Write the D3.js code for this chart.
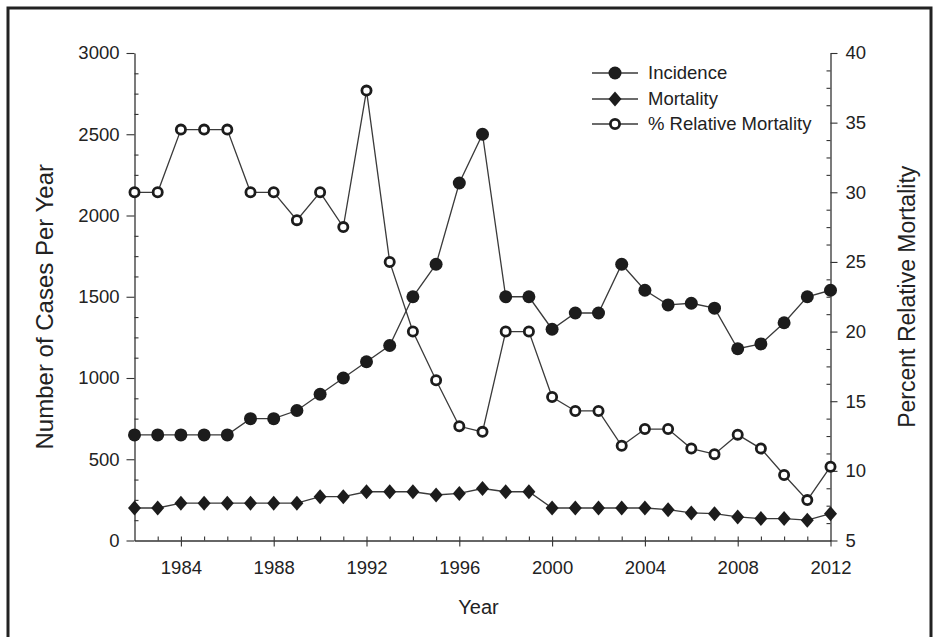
<!DOCTYPE html>
<html>
<head>
<meta charset="utf-8">
<script src="https://cdn.jsdelivr.net/npm/d3@7"></script>
<style>
  html, body { margin: 0; padding: 0; background: #fff; }
  svg { display: block; }
  text { font-family: "Liberation Sans", Arial, sans-serif; fill: #222; }
</style>
</head>
<body>
<svg id="chart" width="937" height="637"></svg>
<script>
const years = [1982,1983,1984,1985,1986,1987,1988,1989,1990,1991,1992,1993,1994,1995,1996,1997,1998,1999,2000,2001,2002,2003,2004,2005,2006,2007,2008,2009,2010,2011,2012];
const incidence = [650,650,650,650,650,750,750,800,900,1000,1100,1200,1500,1700,2200,2500,1500,1500,1300,1400,1400,1700,1540,1450,1460,1430,1180,1210,1340,1500,1540];
const mortality = [200,200,230,230,230,230,230,230,270,270,300,300,300,280,290,320,300,300,200,200,200,200,200,190,170,165,145,135,135,125,165];
const relMortality = [30,30,34.5,34.5,34.5,30,30,28,30,27.5,37.3,25,20,16.5,13.2,12.8,20,20,15.3,14.3,14.3,11.8,13,13,11.6,11.2,12.6,11.6,9.7,7.9,10.3];

const xTicks = [1984,1988,1992,1996,2000,2004,2008,2012];
const leftTicks = [0,500,1000,1500,2000,2500,3000];
const rightTicks = [5,10,15,20,25,30,35,40];
const seriesNames = ["Incidence","Mortality","% Relative Mortality"];

const svg = d3.select("#chart");
const ink = "#1c1c1c";
const lineCol = "#3a3a3a";

// frame
svg.append("path")
  .attr("d", "M8,640 L8,8 L931,8 L931,640")
  .attr("fill", "none").attr("stroke", "#222").attr("stroke-width", 3);

const x = d3.scaleLinear().domain([1982, 2012]).range([134.5, 830.5]);
const yL = d3.scaleLinear().domain([0, 3000]).range([540.5, 53]);
const yR = d3.scaleLinear().domain([5, 40]).range([540.5, 53]);

function styleAxis(g) {
  g.selectAll("path.domain").attr("stroke", "#333").attr("stroke-width", 1.3);
  g.selectAll(".tick line").attr("stroke", "#333").attr("stroke-width", 1.1);
  g.selectAll(".tick text").attr("font-size", 18.5).attr("fill", "#333")
    .attr("font-family", "Liberation Sans, Arial, sans-serif");
}

// Left axis
const gL = svg.append("g").attr("transform", `translate(${x(1982)},0)`)
  .call(d3.axisLeft(yL).tickValues(leftTicks).tickSize(8).tickSizeOuter(0).tickPadding(7).tickFormat(d3.format("d")));
styleAxis(gL);
const gLm = svg.append("g").attr("transform", `translate(${x(1982)},0)`)
  .call(d3.axisRight(yL).tickValues(d3.range(0, 3001, 125).filter(v => v % 500 !== 0)).tickSize(4).tickFormat(""));
gLm.select("path.domain").remove();
styleAxis(gLm);

// Right axis
const gR = svg.append("g").attr("transform", `translate(${x(2012)},0)`)
  .call(d3.axisRight(yR).tickValues(rightTicks).tickSize(7).tickSizeOuter(0).tickPadding(8).tickFormat(d3.format("d")));
styleAxis(gR);
const gRm = svg.append("g").attr("transform", `translate(${x(2012)},0)`)
  .call(d3.axisLeft(yR).tickValues(d3.range(5, 40.01, 1.25).filter(v => v % 5 !== 0)).tickSize(4).tickFormat(""));
gRm.select("path.domain").remove();
styleAxis(gRm);

// Bottom axis
const gB = svg.append("g").attr("transform", `translate(0,${yL(0)})`)
  .call(d3.axisBottom(x).tickValues(xTicks).tickSize(6).tickSizeOuter(0).tickPadding(14).tickFormat(d3.format("d")));
styleAxis(gB);
const gBm = svg.append("g").attr("transform", `translate(0,${yL(0)})`)
  .call(d3.axisTop(x).tickValues(years.filter(y => y > 1982 && y < 2012)).tickSize(4).tickFormat(""));
gBm.select("path.domain").remove();
styleAxis(gBm);

// Axis titles
svg.append("text").attr("transform", `translate(53,${(yL(0)+yL(3000))/2 + 10}) rotate(-90)`)
  .attr("text-anchor", "middle").attr("font-size", 24).attr("fill", "#333")
  .text("Number of Cases Per Year");
svg.append("text").attr("transform", `translate(915,${(yR(5)+yR(40))/2}) rotate(-90)`)
  .attr("text-anchor", "middle").attr("font-size", 23).attr("fill", "#333")
  .text("Percent Relative Mortality");
svg.append("text").attr("x", (x(1982)+x(2012))/2 - 4).attr("y", 614)
  .attr("text-anchor", "middle").attr("font-size", 20).attr("fill", "#333")
  .text("Year");

// Lines
const lineL = d3.line().x((d, i) => x(years[i])).y(d => yL(d));
const lineR = d3.line().x((d, i) => x(years[i])).y(d => yR(d));
[[incidence, lineL], [mortality, lineL], [relMortality, lineR]].forEach(([data, gen]) => {
  svg.append("path").attr("d", gen(data)).attr("fill", "none")
    .attr("stroke", lineCol).attr("stroke-width", 1.3);
});

const diamond = "M0,-7.5 L6.5,0 L0,7.5 L-6.5,0 Z";

// Markers
svg.append("g").selectAll("circle").data(incidence).join("circle")
  .attr("cx", (d, i) => x(years[i])).attr("cy", d => yL(d)).attr("r", 6.5).attr("fill", ink);
svg.append("g").selectAll("path").data(mortality).join("path")
  .attr("transform", (d, i) => `translate(${x(years[i])},${yL(d)})`).attr("d", diamond).attr("fill", ink);
svg.append("g").selectAll("circle").data(relMortality).join("circle")
  .attr("cx", (d, i) => x(years[i])).attr("cy", d => yR(d)).attr("r", 4.6)
  .attr("fill", "#fff").attr("stroke", ink).attr("stroke-width", 2.8);

// Legend
const legRows = [73, 99, 124];
const leg = svg.append("g");
seriesNames.forEach((name, i) => {
  const yy = legRows[i];
  leg.append("line").attr("x1", 592).attr("x2", 638).attr("y1", yy).attr("y2", yy)
    .attr("stroke", lineCol).attr("stroke-width", 1.3);
  if (i === 0) leg.append("circle").attr("cx", 615).attr("cy", yy).attr("r", 6.5).attr("fill", ink);
  if (i === 1) leg.append("path").attr("transform", `translate(615,${yy})`).attr("d", diamond).attr("fill", ink);
  if (i === 2) leg.append("circle").attr("cx", 615).attr("cy", yy).attr("r", 4.6)
    .attr("fill", "#fff").attr("stroke", ink).attr("stroke-width", 2.8);
  leg.append("text").attr("x", 648).attr("y", yy).attr("dy", "0.35em")
    .attr("font-size", 18.5).attr("fill", "#333").text(name);
});
</script>
</body>
</html>
